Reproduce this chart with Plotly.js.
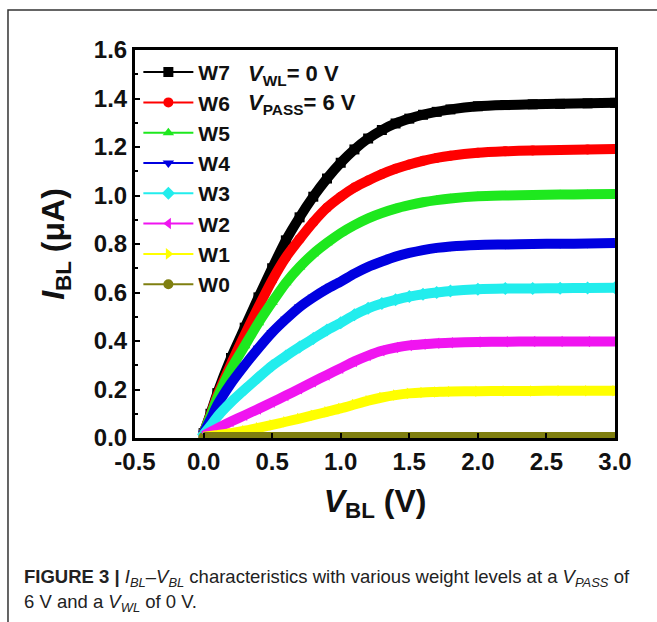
<!DOCTYPE html>
<html>
<head>
<meta charset="utf-8">
<script src="https://cdn.plot.ly/plotly-3.0.1.min.js"></script>
<style>
  html, body { margin: 0; padding: 0; background: #ffffff; }
  #chart { width: 657px; height: 622px; }
</style>
</head>
<body>
<div id="chart"></div>
<script>
// Bit-line voltage V_BL (V)
const V_BL = [0, 0.05, 0.1, 0.2, 0.3, 0.4, 0.5, 0.6, 0.7, 0.8, 0.9, 1.0, 1.1, 1.2, 1.3, 1.4, 1.5, 1.6, 1.7, 1.8, 2.0, 2.2, 2.4, 2.6, 2.8, 3.0];

// Bit-line current I_BL (uA) for each weight level
const W7 = [0.02, 0.10, 0.185, 0.33, 0.455, 0.58, 0.70, 0.815, 0.91, 0.995, 1.07, 1.135, 1.19, 1.235, 1.27, 1.297, 1.317, 1.333, 1.345, 1.355, 1.368, 1.373, 1.376, 1.378, 1.38, 1.382];
const W6 = [0.02, 0.095, 0.175, 0.305, 0.425, 0.54, 0.65, 0.745, 0.82, 0.89, 0.95, 0.995, 1.033, 1.062, 1.088, 1.11, 1.128, 1.143, 1.155, 1.164, 1.176, 1.182, 1.186, 1.188, 1.19, 1.192];
const W5 = [0.02, 0.09, 0.165, 0.285, 0.38, 0.475, 0.56, 0.64, 0.705, 0.76, 0.805, 0.845, 0.878, 0.906, 0.928, 0.946, 0.96, 0.972, 0.981, 0.988, 0.997, 1.0, 1.002, 1.004, 1.005, 1.006];
const W4 = [0.02, 0.075, 0.135, 0.225, 0.30, 0.37, 0.435, 0.49, 0.54, 0.58, 0.615, 0.645, 0.678, 0.706, 0.728, 0.748, 0.763, 0.775, 0.784, 0.79, 0.796, 0.798, 0.80, 0.801, 0.802, 0.804];
const W3 = [0.015, 0.05, 0.088, 0.148, 0.20, 0.25, 0.298, 0.338, 0.375, 0.41, 0.445, 0.475, 0.508, 0.535, 0.555, 0.57, 0.583, 0.593, 0.6, 0.606, 0.613, 0.616, 0.617, 0.618, 0.619, 0.62];
const W2 = [0.01, 0.025, 0.04, 0.068, 0.094, 0.12, 0.147, 0.175, 0.203, 0.232, 0.26, 0.288, 0.316, 0.34, 0.36, 0.373, 0.382, 0.387, 0.391, 0.393, 0.396, 0.397, 0.398, 0.398, 0.398, 0.398];
const W1 = [0.005, 0.008, 0.012, 0.02, 0.03, 0.042, 0.054, 0.067, 0.08, 0.094, 0.108, 0.122, 0.138, 0.154, 0.167, 0.177, 0.184, 0.188, 0.19, 0.192, 0.193, 0.194, 0.194, 0.195, 0.195, 0.195];
const W0 = [0.004, 0.004, 0.004, 0.004, 0.004, 0.004, 0.004, 0.004, 0.004, 0.004, 0.004, 0.004, 0.004, 0.004, 0.004, 0.004, 0.004, 0.004, 0.004, 0.004, 0.004, 0.004, 0.004, 0.004, 0.004, 0.004];

const seriesNames = ["W7", "W6", "W5", "W4", "W3", "W2", "W1", "W0"];
const seriesData = [W7, W6, W5, W4, W3, W2, W1, W0];
const seriesColors = ["#000000", "#ff0000", "#1ee81e", "#0000e0", "#22eded", "#f014f0", "#ffff00", "#7f7f10"];
const seriesSymbols = ["square", "circle", "triangle-up", "triangle-down", "diamond", "triangle-left", "triangle-right", "circle"];

const xTickVals = [-0.5, 0.0, 0.5, 1.0, 1.5, 2.0, 2.5, 3.0];
const xTickText = ["-0.5", "0.0", "0.5", "1.0", "1.5", "2.0", "2.5", "3.0"];

const traces = [];
// thin line + symbol traces (give the legend its look), drawn underneath
seriesData.forEach((ys, i) => {
  traces.push({
    x: V_BL, y: ys, name: seriesNames[i], type: "scatter", mode: "lines+markers",
    legendgroup: seriesNames[i],
    line: { color: seriesColors[i], width: 2, shape: "spline", smoothing: 0.6 },
    marker: { color: seriesColors[i], symbol: seriesSymbols[i], size: 10, line: { width: 0 } },
    hoverinfo: "skip"
  });
});
// thick measured curves on top
seriesData.forEach((ys, i) => {
  traces.push({
    x: V_BL, y: ys, name: seriesNames[i], type: "scatter", mode: "lines",
    legendgroup: seriesNames[i], showlegend: false,
    line: { color: seriesColors[i], width: 10, shape: "spline", smoothing: 0.6 }
  });
});

const boldFont = { family: "Arial, Liberation Sans, sans-serif", color: "#111111", weight: 700 };

const layout = {
  width: 657, height: 622,
  margin: { l: 135, r: 42, t: 50, b: 184 },
  paper_bgcolor: "#ffffff", plot_bgcolor: "#ffffff",
  showlegend: true,
  legend: {
    x: 0.007, y: 0.995, xanchor: "left", yanchor: "top",
    bgcolor: "rgba(0,0,0,0)", borderwidth: 0,
    font: Object.assign({}, boldFont, { size: 21 }),
    tracegroupgap: 2, traceorder: "normal", itemwidth: 50, itemsizing: "trace"
  },
  xaxis: {
    range: [-0.5, 3.0], tickvals: xTickVals, ticktext: xTickText,
    showgrid: false, zeroline: false,
    showline: true, linecolor: "#000", linewidth: 3, mirror: true,
    ticks: "inside", ticklen: 5, tickwidth: 2, tickcolor: "#000",
    tickfont: Object.assign({}, boldFont, { size: 24 }),
    title: { text: "<i>V</i><sub>BL</sub> (V)", font: Object.assign({}, boldFont, { size: 32 }), standoff: 16 }
  },
  yaxis: {
    range: [0, 1.6], dtick: 0.2, tickformat: ".1f",
    showgrid: false, zeroline: false,
    showline: true, linecolor: "#000", linewidth: 3, mirror: true,
    ticks: "inside", ticklen: 5, tickwidth: 2, tickcolor: "#000",
    minor: { dtick: 0.1, ticks: "inside", ticklen: 3, tickwidth: 2, tickcolor: "#000" },
    tickfont: Object.assign({}, boldFont, { size: 24 }),
    title: { text: "<i>I</i><sub>BL</sub> (μA)", font: Object.assign({}, boldFont, { size: 32 }), standoff: 20 }
  },
  annotations: [
    { xref: "paper", yref: "paper", x: 0.231, y: 0.936, xanchor: "left", yanchor: "middle", showarrow: false,
      text: "<i>V</i><sub>WL</sub>= 0 V", font: Object.assign({}, boldFont, { size: 22 }) },
    { xref: "paper", yref: "paper", x: 0.231, y: 0.862, xanchor: "left", yanchor: "middle", showarrow: false,
      text: "<i>V</i><sub>PASS</sub>= 6 V", font: Object.assign({}, boldFont, { size: 22 }) },
    { xref: "paper", yref: "paper", x: -0.2354, y: -0.361, xanchor: "left", yanchor: "middle", showarrow: false, align: "left",
      text: "<b>FIGURE 3 |</b> <i>I<sub>BL</sub></i>–<i>V<sub>BL</sub></i> characteristics with various weight levels at a <i>V<sub>PASS</sub></i> of",
      font: { family: "Arial, Liberation Sans, sans-serif", size: 18.5, color: "#222222" } },
    { xref: "paper", yref: "paper", x: -0.2354, y: -0.425, xanchor: "left", yanchor: "middle", showarrow: false, align: "left",
      text: "6 V and a <i>V<sub>WL</sub></i> of 0 V.",
      font: { family: "Arial, Liberation Sans, sans-serif", size: 18.5, color: "#222222" } }
  ],
  shapes: [
    { type: "rect", xref: "paper", yref: "paper", x0: -0.2646, x1: 1.3, y0: -0.7, y1: 1.1031,
      line: { color: "#333333", width: 1.5 }, fillcolor: "rgba(0,0,0,0)", layer: "below" }
  ]
};

Plotly.newPlot("chart", traces, layout, { displayModeBar: false, staticPlot: true });
</script>
</body>
</html>
